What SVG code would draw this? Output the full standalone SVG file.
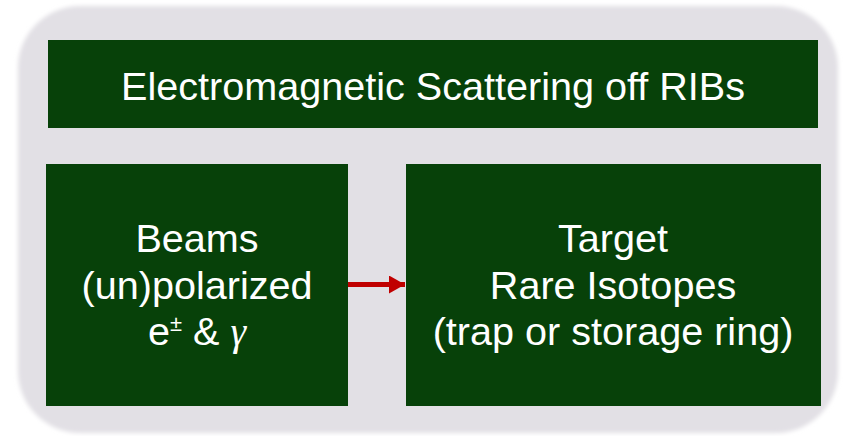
<svg xmlns="http://www.w3.org/2000/svg" width="844" height="436" viewBox="0 0 844 436">
<defs>
<filter id="soft" x="-5%" y="-5%" width="110%" height="110%"><feGaussianBlur stdDeviation="2"/></filter>
<marker id="ah" markerWidth="16" markerHeight="18" refX="16" refY="9" orient="auto" markerUnits="userSpaceOnUse"><path d="M0,0 L16,9 L0,18 Z" fill="#c00000"/></marker>
</defs>
<style>
.box{fill:#074109}
.t{font-family:"Liberation Sans",Arial,sans-serif;font-size:39.6px;fill:#ffffff;text-anchor:middle}
</style>
<rect x="18" y="6" width="820" height="427" rx="62" ry="62" fill="#e2e0e5" filter="url(#soft)"/>
<g id="title">
<rect class="box" x="48" y="40" width="770" height="88"/>
<text class="t" x="433" y="100">Electromagnetic Scattering off RIBs</text>
</g>
<g id="beams">
<rect class="box" x="46" y="164" width="302" height="242"/>
<text class="t" x="197" y="252">Beams</text>
<text class="t" x="197" y="299">(un)polarized</text>
<text class="t" x="197" y="345">e<tspan font-size="22" dy="-14">±</tspan><tspan dy="14"> &amp; </tspan><tspan font-family="'Liberation Serif','DejaVu Serif',serif" font-style="italic">γ</tspan></text>
</g>
<g id="target">
<rect class="box" x="406" y="164" width="415" height="242"/>
<text class="t" x="613" y="252">Target</text>
<text class="t" x="613" y="299">Rare Isotopes</text>
<text class="t" x="613" y="345">(trap or storage ring)</text>
</g>
<g id="connectors">
<line x1="348" y1="284.5" x2="405" y2="284.5" stroke="#c00000" stroke-width="5" marker-end="url(#ah)"/>
</g>
</svg>
